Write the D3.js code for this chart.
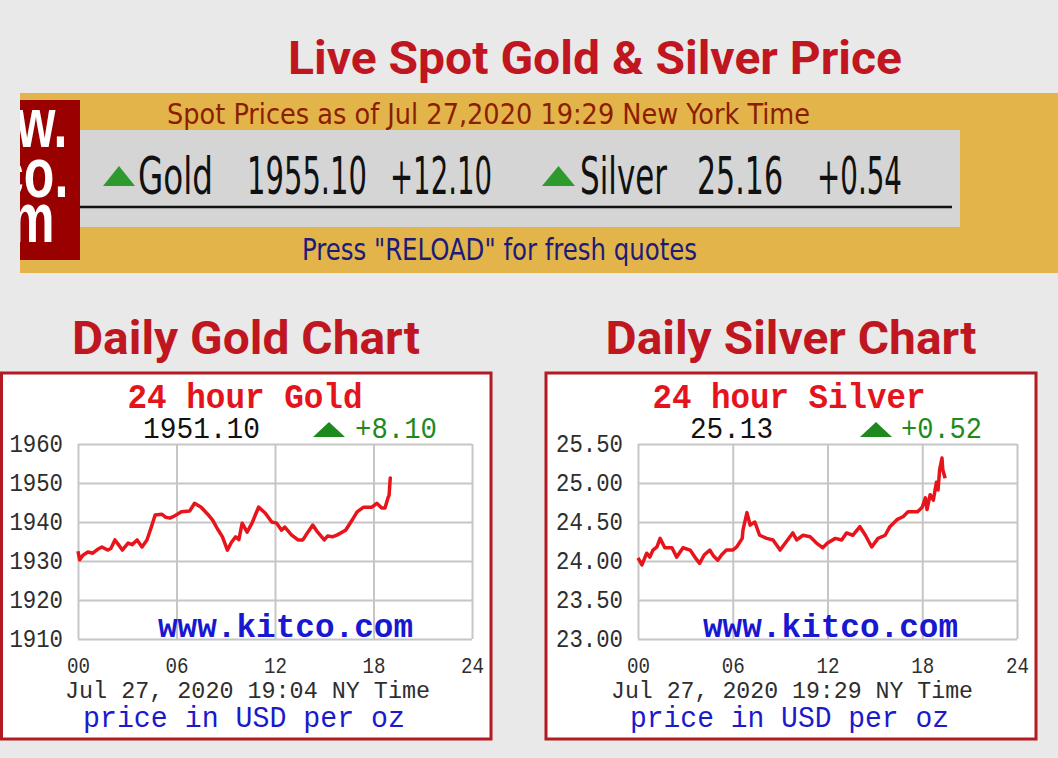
<!DOCTYPE html>
<html>
<head>
<meta charset="utf-8">
<script src="https://cdn.jsdelivr.net/npm/d3@7"></script>
<style>
  html, body { margin: 0; padding: 0; background: #e9e9e9; }
  svg { display: block; }
</style>
</head>
<body>
<svg id="page" width="1058" height="758"></svg>
<script>
// values (hours since 00:00 NY time, USD/oz)
var hourTicks = [0, 6, 12, 18, 24];
var goldTicks = [1910, 1920, 1930, 1940, 1950, 1960];
var silverTicks = [23.0, 23.5, 24.0, 24.5, 25.0, 25.5];

var goldTime = [0.0, 0.1, 0.3, 0.6, 0.9, 1.2, 1.46, 1.8, 2.0, 2.25, 2.5, 2.7, 3.05, 3.3, 3.6, 3.9,
  4.2, 4.45, 4.7, 5.1, 5.35, 5.6, 5.9, 6.3, 6.8, 7.1, 7.5, 7.9, 8.2, 8.5, 8.8, 9.1, 9.35, 9.6,
  9.8, 10.0, 10.3, 10.6, 10.8, 11.0, 11.4, 11.8, 12.1, 12.4, 12.6, 13.0, 13.4, 13.7, 14.0, 14.3,
  14.6, 15.0, 15.2, 15.5, 15.8, 16.3, 16.7, 17.0, 17.4, 17.9, 18.2, 18.5, 18.7, 18.9, 18.95, 19.02, 19.07];
var goldPrice = [1932.5, 1930.3, 1931.5, 1932.3, 1932.0, 1933.0, 1933.6, 1932.8, 1933.2, 1935.4, 1934.0,
  1932.8, 1934.6, 1934.2, 1935.4, 1933.6, 1935.4, 1938.5, 1941.8, 1942.0, 1941.2, 1941.0, 1941.6,
  1942.6, 1942.8, 1944.8, 1943.8, 1942.0, 1940.5, 1938.2, 1936.2, 1932.8, 1934.8, 1936.2, 1935.5,
  1939.7, 1937.4, 1939.7, 1941.8, 1943.8, 1942.3, 1940.0, 1939.7, 1937.9, 1938.7, 1936.7, 1935.4,
  1935.4, 1937.4, 1939.2, 1937.4, 1935.4, 1936.4, 1936.2, 1936.7, 1937.9, 1940.5, 1942.6, 1943.8,
  1943.8, 1944.8, 1943.6, 1943.6, 1946.4, 1946.8, 1951.3, 1951.1];

var silverTime = [0.0, 0.25, 0.55, 0.75, 0.95, 1.2, 1.4, 1.7, 2.15, 2.45, 2.85, 3.3, 3.6, 3.9, 4.2,
  4.55, 4.8, 5.05, 5.3, 5.6, 6.0, 6.25, 6.6, 6.65, 6.9, 7.1, 7.4, 7.7, 8.15, 8.55, 9.0, 9.4, 9.8,
  10.05, 10.45, 10.9, 11.3, 11.7, 12.0, 12.5, 12.9, 13.2, 13.6, 14.05, 14.4, 14.8, 15.2, 15.65,
  15.95, 16.4, 16.8, 17.1, 17.7, 18.0, 18.2, 18.3, 18.5, 18.7, 18.9, 19.0, 19.1, 19.25, 19.3, 19.45];
var silverPrice = [24.04, 23.95, 24.10, 24.05, 24.14, 24.18, 24.29, 24.17, 24.17, 24.05, 24.17, 24.14,
  24.05, 23.97, 24.08, 24.14, 24.06, 24.01, 24.08, 24.14, 24.14, 24.18, 24.29, 24.40, 24.62, 24.46,
  24.50, 24.33, 24.29, 24.27, 24.14, 24.25, 24.36, 24.27, 24.33, 24.31, 24.23, 24.17, 24.23, 24.29,
  24.27, 24.36, 24.33, 24.44, 24.33, 24.18, 24.29, 24.33, 24.44, 24.53, 24.57, 24.63, 24.63, 24.69,
  24.81, 24.66, 24.85, 24.78, 25.01, 24.91, 25.17, 25.32, 25.17, 25.06];

var svg = d3.select("#page");
var mono = "'Liberation Mono', 'DejaVu Sans Mono', monospace";
var narrow = "'Liberation Sans Narrow', 'DejaVu Sans Condensed', 'Liberation Sans', sans-serif";

svg.append("rect").attr("width", 1058).attr("height", 758).attr("fill", "#e9e9e9");

// headings
function heading(txt, x, y, len) {
  svg.append("text")
    .attr("x", x).attr("y", y)
    .attr("text-anchor", "middle")
    .attr("textLength", len)
    .attr("lengthAdjust", "spacingAndGlyphs")
    .style("font-family", "Roboto, 'Noto Sans', sans-serif")
    .style("font-weight", "bold")
    .style("font-size", "46px")
    .attr("fill", "#c0161f")
    .text(txt);
}
heading("Live Spot Gold & Silver Price", 595, 74, 614);
heading("Daily Gold Chart", 246, 354, 348);
heading("Daily Silver Chart", 791, 354, 371);

// ---- spot price banner ----
var banner = svg.append("g");
banner.append("rect").attr("x", 20).attr("y", 93).attr("width", 1038).attr("height", 180).attr("fill", "#e3b44a");
banner.append("rect").attr("x", 80).attr("y", 130).attr("width", 880).attr("height", 97).attr("fill", "#d5d5d5");
banner.append("line").attr("x1", 80).attr("x2", 952).attr("y1", 207).attr("y2", 207)
  .attr("stroke", "#111").attr("stroke-width", 2.5);

banner.append("clipPath").attr("id", "logoclip")
  .append("rect").attr("x", 20).attr("y", 100).attr("width", 60).attr("height", 160);
banner.append("rect").attr("x", 20).attr("y", 100).attr("width", 60).attr("height", 160).attr("fill", "#990000");
var logo = banner.append("g").attr("clip-path", "url(#logoclip)");
[["www.", 147], ["kitco.", 197], ["com", 242]].forEach(function(d) {
  logo.append("text")
    .attr("transform", "translate(3," + d[1] + ") scale(1,1.4)")
    .attr("text-anchor", "middle")
    .style("font-family", "'Liberation Sans', Arial, sans-serif")
    .style("font-weight", "bold")
    .style("font-size", "50px")
    .attr("fill", "#fff")
    .text(d[0]);
});

function bannerText(txt, x, y, len, size, color) {
  banner.append("text")
    .attr("x", x).attr("y", y)
    .attr("textLength", len)
    .attr("lengthAdjust", "spacingAndGlyphs")
    .style("font-family", narrow)
    .style("font-size", size + "px")
    .attr("fill", color)
    .text(txt);
}
function upArrow(g, x, y, w, h, color) {
  g.append("path")
    .attr("d", "M" + x + "," + (y + h) + "L" + (x + w / 2) + "," + y + "L" + (x + w) + "," + (y + h) + "Z")
    .attr("fill", color);
}
bannerText("Spot Prices as of Jul 27,2020 19:29 New York Time", 167, 124, 643, 29, "#8b1e00");
upArrow(banner, 103, 166, 32, 20, "#2e9a2e");
bannerText("Gold", 138, 194, 75, 51, "#111");
bannerText("1955.10", 247, 194, 120, 51, "#111");
bannerText("+12.10", 390, 194, 102, 51, "#111");
upArrow(banner, 542, 166, 33, 20, "#2e9a2e");
bannerText("Silver", 580, 194, 87, 51, "#111");
bannerText("25.16", 697, 194, 86, 51, "#111");
bannerText("+0.54", 817, 194, 85, 51, "#111");
bannerText("Press \"RELOAD\" for fresh quotes", 302, 260, 395, 30, "#1c1c78");

// ---- 24 hour charts ----
function drawChart(cfg) {
  var g = svg.append("g");
  g.append("rect")
    .attr("x", cfg.frame[0]).attr("y", 373)
    .attr("width", cfg.frame[1] - cfg.frame[0]).attr("height", 366)
    .attr("fill", "#fff").attr("stroke", "#b31b22").attr("stroke-width", 3);

  var x = d3.scaleLinear().domain([0, 24]).range([cfg.left, cfg.right]);
  var y = d3.scaleLinear().domain(d3.extent(cfg.yTicks)).range([639, 444]);

  var yAxis = g.append("g")
    .attr("transform", "translate(" + cfg.left + ",0)")
    .call(d3.axisLeft(y).tickValues(cfg.yTicks).tickFormat(cfg.fmt)
      .tickSize(-(cfg.right - cfg.left)).tickPadding(15));
  var xAxis = g.append("g")
    .attr("transform", "translate(0,639)")
    .call(d3.axisBottom(x).tickValues(hourTicks).tickFormat(d3.format("02d"))
      .tickSize(-(639 - 444)).tickPadding(18));

  [yAxis, xAxis].forEach(function(a) {
    a.select(".domain").remove();
    a.selectAll(".tick line").attr("stroke", "#c6c6c6").attr("stroke-width", 2);
    a.selectAll(".tick text").attr("fill", "#2e2e2e").style("font-family", mono);
  });
  yAxis.selectAll(".tick text")
    .style("font-size", "26px")
    .attr("dy", "0.3em")
    .attr("textLength", function() { return this.textContent.length * 13.4; })
    .attr("lengthAdjust", "spacingAndGlyphs");
  xAxis.selectAll(".tick text").style("font-size", "22px")
    .attr("textLength", 23).attr("lengthAdjust", "spacingAndGlyphs");

  function label(txt, x0, y0, len, size, color, bold, anchor) {
    g.append("text")
      .attr("x", x0).attr("y", y0)
      .attr("text-anchor", anchor || "start")
      .attr("textLength", len)
      .attr("lengthAdjust", "spacingAndGlyphs")
      .style("font-family", mono)
      .style("font-size", size + "px")
      .style("font-weight", bold ? "bold" : "normal")
      .attr("fill", color)
      .text(txt);
  }

  label("www.kitco.com", cfg.wm, 637, 255, 34, "#1818d0", true);

  var line = d3.line()
    .x(function(d) { return x(d[0]); })
    .y(function(d) { return y(d[1]); });
  g.append("path")
    .datum(d3.zip(cfg.time, cfg.price))
    .attr("d", line)
    .attr("fill", "none")
    .attr("stroke", "#e8141c")
    .attr("stroke-width", 3.5)
    .attr("stroke-linejoin", "round");

  label(cfg.title, cfg.titleX, 408, cfg.titleLen, 35, "#e4141c", true, "middle");
  label(cfg.last, cfg.lastX, 438, cfg.lastLen, 30, "#111");
  upArrow(g, cfg.triX, 422, 32, 15, "#1e8a1e");
  label(cfg.change, cfg.changeX, 438, cfg.changeLen, 30, "#1e8a1e");
  label(cfg.stamp, cfg.stampX, 698, cfg.stampLen, 24, "#2e2e2e");
  label("price in USD per oz", cfg.unitX, 727, cfg.unitLen, 29, "#1a1acc");
}

drawChart({
  frame: [1.5, 491], left: 78, right: 472,
  yTicks: goldTicks, fmt: d3.format("d"),
  time: goldTime, price: goldPrice,
  title: "24 hour Gold", titleX: 245, titleLen: 235,
  last: "1951.10", lastX: 143, lastLen: 117,
  triX: 313, change: "+8.10", changeX: 355, changeLen: 82,
  wm: 158, stamp: "Jul 27, 2020 19:04 NY Time", stampX: 65, stampLen: 365,
  unitX: 83, unitLen: 322
});

drawChart({
  frame: [546, 1036], left: 638, right: 1017,
  yTicks: silverTicks, fmt: d3.format(".2f"),
  time: silverTime, price: silverPrice,
  title: "24 hour Silver", titleX: 789, titleLen: 273,
  last: "25.13", lastX: 690, lastLen: 83,
  triX: 860, change: "+0.52", changeX: 901, changeLen: 81,
  wm: 703, stamp: "Jul 27, 2020 19:29 NY Time", stampX: 611, stampLen: 362,
  unitX: 630, unitLen: 319
});
</script>
</body>
</html>
